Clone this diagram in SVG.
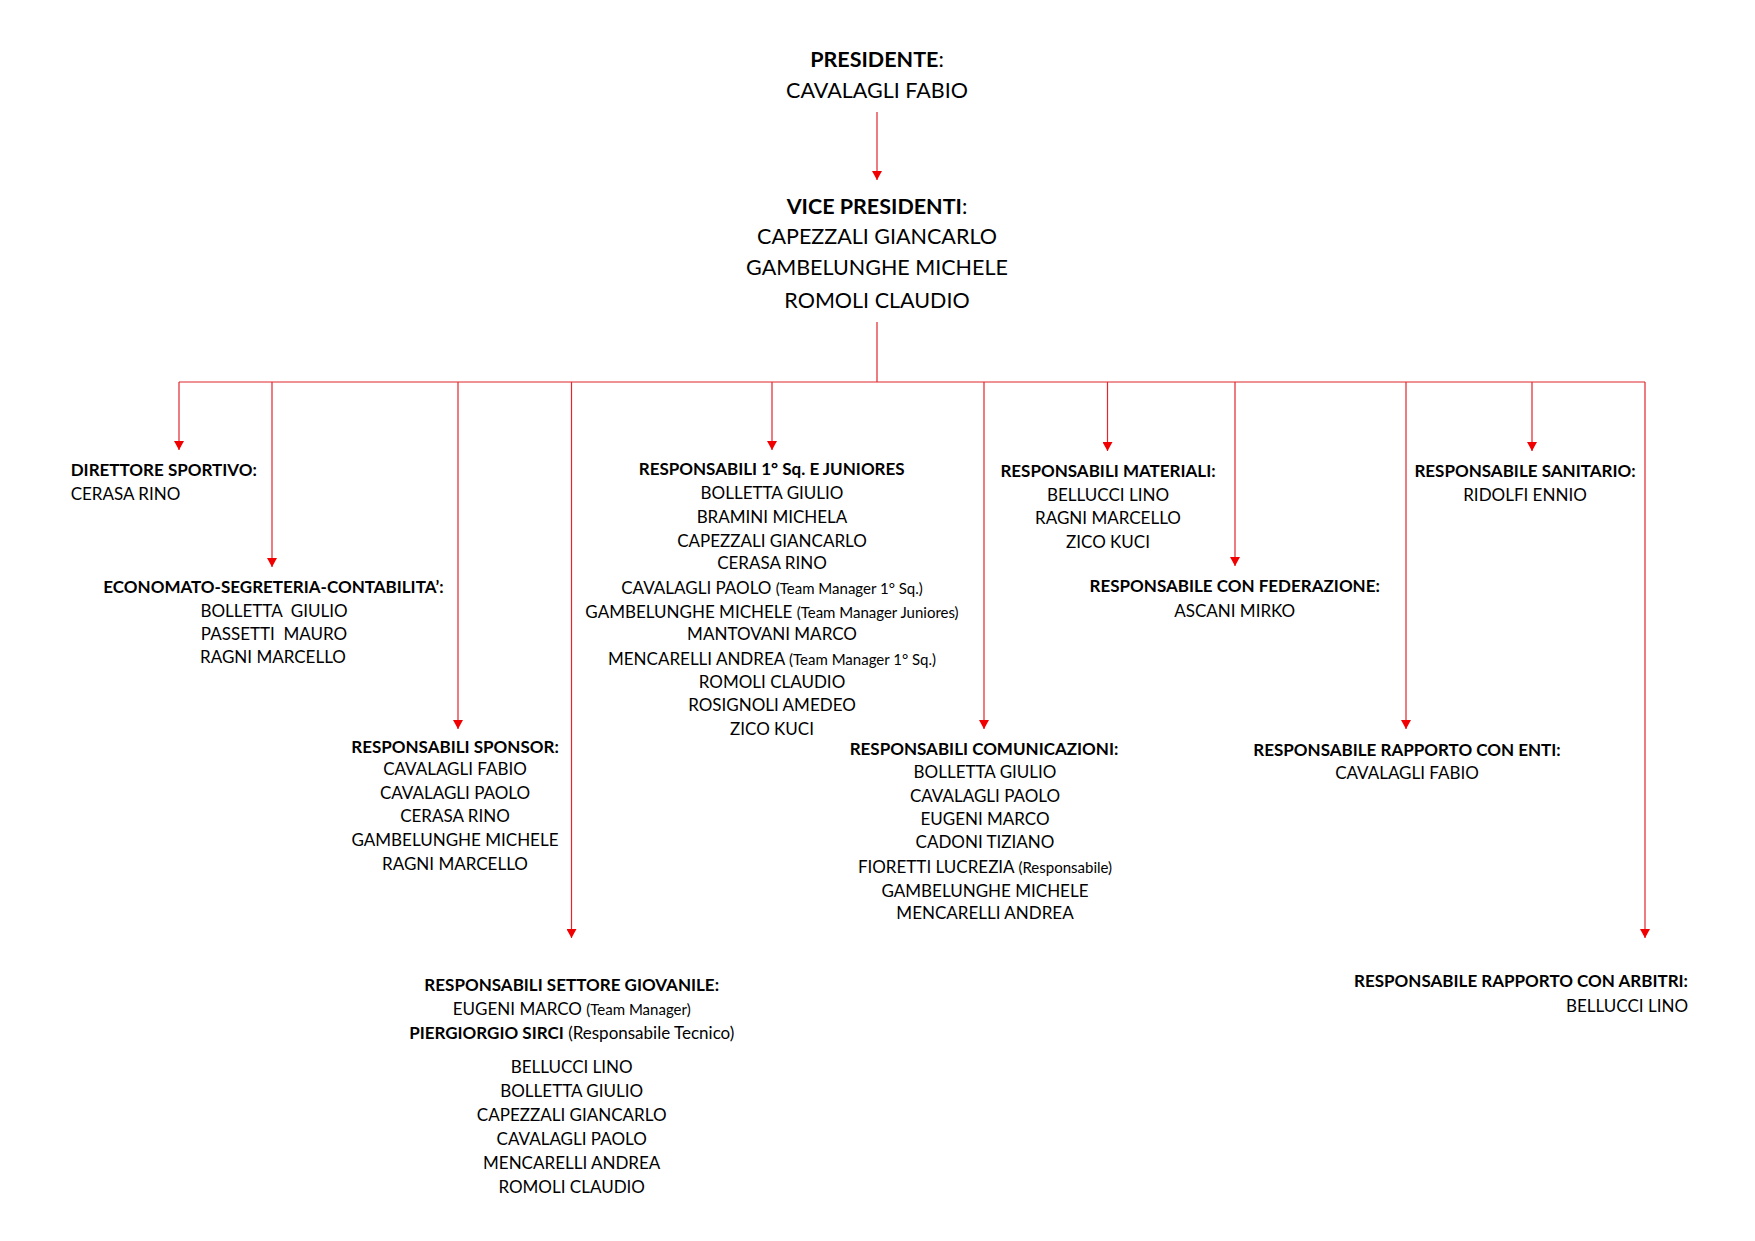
<svg xmlns="http://www.w3.org/2000/svg" width="1755" height="1241" viewBox="0 0 1755 1241">
<defs>
<marker id="arr" viewBox="0 0 9 10" refX="9" refY="5" markerWidth="9" markerHeight="10" markerUnits="userSpaceOnUse" orient="auto">
<path d="M0,0 L9,5 L0,10 z" fill="#f00000"/>
</marker>
<style>
text{font-family:Lato,"Liberation Sans",sans-serif;font-size:17px;fill:#000;text-anchor:middle;white-space:pre}
.b{font-weight:bold}
.s{font-size:15px}
.t{font-size:21.5px}
.l{text-anchor:start}
.r{text-anchor:end}
.c line{stroke:#e2262c;stroke-width:1.2;fill:none}
.c .a{marker-end:url(#arr)}
</style>
</defs>
<rect width="1755" height="1241" fill="#fff"/>
<g id="connectors" class="c">
<line class="a" x1="877" y1="112" x2="877" y2="180"/>
<line x1="877" y1="322" x2="877" y2="382"/>
<line x1="179" y1="382" x2="1645" y2="382"/>
<line class="a" x1="179" y1="382" x2="179" y2="450"/>
<line class="a" x1="272" y1="382" x2="272" y2="567"/>
<line class="a" x1="458" y1="382" x2="458" y2="729"/>
<line class="a" x1="571.5" y1="382" x2="571.5" y2="938"/>
<line class="a" x1="772" y1="382" x2="772" y2="450"/>
<line class="a" x1="984" y1="382" x2="984" y2="729"/>
<line class="a" x1="1107.5" y1="382" x2="1107.5" y2="451"/>
<line class="a" x1="1235" y1="382" x2="1235" y2="566"/>
<line class="a" x1="1406" y1="382" x2="1406" y2="729"/>
<line class="a" x1="1532" y1="382" x2="1532" y2="451"/>
<line class="a" x1="1645" y1="382" x2="1645" y2="938"/>
</g>
<g id="presidente">
<text class="t" x="877" y="67"><tspan class="b">PRESIDENTE</tspan>:</text>
<text class="t" x="877" y="98">CAVALAGLI FABIO</text>
</g>
<g id="vice-presidenti">
<text class="t" x="877" y="214"><tspan class="b">VICE PRESIDENTI</tspan>:</text>
<text class="t" x="877" y="244">CAPEZZALI GIANCARLO</text>
<text class="t" x="877" y="275">GAMBELUNGHE MICHELE</text>
<text class="t" x="877" y="308">ROMOLI CLAUDIO</text>
</g>
<g id="direttore-sportivo">
<text class="b l" x="70.7" y="476">DIRETTORE SPORTIVO:</text>
<text class="l" x="70.7" y="500">CERASA RINO</text>
</g>
<g id="economato">
<text class="b" x="273.5" y="592.7">ECONOMATO-SEGRETERIA-CONTABILITA’:</text>
<text x="274" y="616.7">BOLLETTA  GIULIO</text>
<text x="274" y="639.5">PASSETTI  MAURO</text>
<text x="273" y="663">RAGNI MARCELLO</text>
</g>
<g id="responsabili-sponsor">
<text class="b" x="455" y="752.7">RESPONSABILI SPONSOR:</text>
<text x="455" y="775">CAVALAGLI FABIO</text>
<text x="455" y="799">CAVALAGLI PAOLO</text>
<text x="455" y="821.7">CERASA RINO</text>
<text x="455" y="845.7">GAMBELUNGHE MICHELE</text>
<text x="455" y="870">RAGNI MARCELLO</text>
</g>
<g id="settore-giovanile">
<text class="b" x="571.7" y="990.7">RESPONSABILI SETTORE GIOVANILE:</text>
<text x="571.7" y="1015">EUGENI MARCO <tspan class="s">(Team Manager)</tspan></text>
<text x="571.7" y="1039.3"><tspan class="b">PIERGIORGIO SIRCI</tspan> (Responsabile Tecnico)</text>
<text x="571.7" y="1072.7">BELLUCCI LINO</text>
<text x="571.7" y="1096.7">BOLLETTA GIULIO</text>
<text x="571.7" y="1120.7">CAPEZZALI GIANCARLO</text>
<text x="571.7" y="1145">CAVALAGLI PAOLO</text>
<text x="571.7" y="1169.3">MENCARELLI ANDREA</text>
<text x="571.7" y="1193.3">ROMOLI CLAUDIO</text>
</g>
<g id="prima-squadra-juniores">
<text class="b" x="771.7" y="475">RESPONSABILI 1° Sq. E JUNIORES</text>
<text x="772" y="499">BOLLETTA GIULIO</text>
<text x="772" y="522.7">BRAMINI MICHELA</text>
<text x="772" y="546.7">CAPEZZALI GIANCARLO</text>
<text x="772" y="569.3">CERASA RINO</text>
<text x="772" y="594">CAVALAGLI PAOLO <tspan class="s">(Team Manager 1° Sq.)</tspan></text>
<text x="772" y="617.7">GAMBELUNGHE MICHELE <tspan class="s">(Team Manager Juniores)</tspan></text>
<text x="772" y="640">MANTOVANI MARCO</text>
<text x="772" y="665">MENCARELLI ANDREA <tspan class="s">(Team Manager 1° Sq.)</tspan></text>
<text x="772" y="687.7">ROMOLI CLAUDIO</text>
<text x="772" y="710.7">ROSIGNOLI AMEDEO</text>
<text x="772" y="735">ZICO KUCI</text>
</g>
<g id="comunicazioni">
<text class="b" x="984" y="755">RESPONSABILI COMUNICAZIONI:</text>
<text x="985" y="777.7">BOLLETTA GIULIO</text>
<text x="985" y="801.7">CAVALAGLI PAOLO</text>
<text x="985" y="825">EUGENI MARCO</text>
<text x="985" y="848.3">CADONI TIZIANO</text>
<text x="985" y="872.7">FIORETTI LUCREZIA <tspan class="s">(Responsabile)</tspan></text>
<text x="985" y="896.7">GAMBELUNGHE MICHELE</text>
<text x="985" y="919.3">MENCARELLI ANDREA</text>
</g>
<g id="materiali">
<text class="b" x="1108" y="477.3">RESPONSABILI MATERIALI:</text>
<text x="1108" y="500.7">BELLUCCI LINO</text>
<text x="1108" y="524.3">RAGNI MARCELLO</text>
<text x="1108" y="547.7">ZICO KUCI</text>
</g>
<g id="federazione">
<text class="b" x="1234.7" y="592.3">RESPONSABILE CON FEDERAZIONE:</text>
<text x="1234.7" y="616.7">ASCANI MIRKO</text>
</g>
<g id="rapporto-enti">
<text class="b" x="1407" y="755.7">RESPONSABILE RAPPORTO CON ENTI:</text>
<text x="1407" y="779.3">CAVALAGLI FABIO</text>
</g>
<g id="sanitario">
<text class="b" x="1525" y="476.7">RESPONSABILE SANITARIO:</text>
<text x="1525" y="500.7">RIDOLFI ENNIO</text>
</g>
<g id="rapporto-arbitri">
<text class="b r" x="1688" y="987.3">RESPONSABILE RAPPORTO CON ARBITRI:</text>
<text class="r" x="1688" y="1011.7">BELLUCCI LINO</text>
</g>
</svg>
